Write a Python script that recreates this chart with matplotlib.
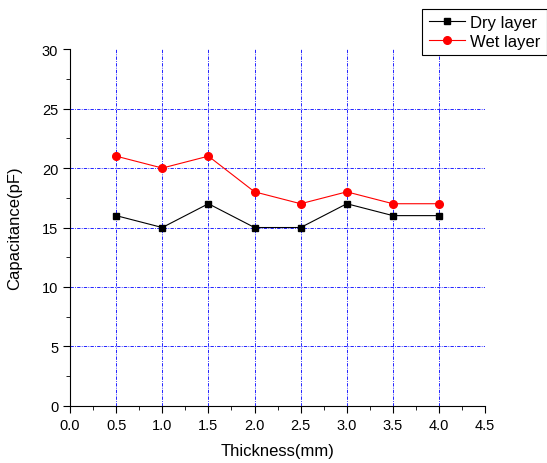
import matplotlib.pyplot as plt
from matplotlib.ticker import MultipleLocator

thickness = [0.5, 1.0, 1.5, 2.0, 2.5, 3.0, 3.5, 4.0]
dry = [16, 15, 17, 15, 15, 17, 16, 16]
wet = [21, 20, 21, 18, 17, 18, 17, 17]

plt.rcParams['font.family'] = ['Liberation Sans', 'DejaVu Sans']

fig = plt.figure(figsize=(5.47, 4.64), dpi=100)
ax = fig.add_axes([0.128, 0.123, 0.759, 0.769])

ax.plot(thickness, dry, color='black', marker='s', markersize=5, linewidth=0.8, label='Dry layer')
ax.plot(thickness, wet, color='red', marker='o', markersize=5.5, linewidth=0.8, label='Wet layer')

ax.set_xlim(0, 4.5)
ax.set_ylim(0, 30)
ax.xaxis.set_major_locator(MultipleLocator(0.5))
ax.xaxis.set_minor_locator(MultipleLocator(0.25))
ax.yaxis.set_major_locator(MultipleLocator(5))
ax.yaxis.set_minor_locator(MultipleLocator(2.5))
ax.set_xticklabels([f'{v:.1f}' for v in ax.get_xticks()])
ax.tick_params(which='major', direction='out', length=5, labelsize=10.5)
ax.tick_params(which='minor', direction='out', length=3)

ax.spines['top'].set_visible(False)
ax.spines['right'].set_visible(False)
ax.grid(True, color='blue', linestyle=(0, (4, 1.5, 1, 1.5)), linewidth=0.6)
ax.set_axisbelow(True)

# no grid lines on the axis limits
fig.canvas.draw()
for axis, lims in ((ax.xaxis, ax.get_xlim()), (ax.yaxis, ax.get_ylim())):
    for tick in axis.get_major_ticks():
        if abs(tick.get_loc() - lims[0]) < 1e-9 or abs(tick.get_loc() - lims[1]) < 1e-9:
            tick.gridline.set_visible(False)

ax.set_xlabel('Thickness(mm)', fontsize=12, labelpad=8)
ax.set_ylabel('Capacitance(pF)', fontsize=12, labelpad=14)

leg = fig.legend(loc='upper right', bbox_to_anchor=(1.01, 0.99), fontsize=12, fancybox=False,
                 edgecolor='black', framealpha=1, handlelength=2.2, borderaxespad=0.3,
                 handletextpad=0.3, labelspacing=0.2, borderpad=0.4)
leg.get_frame().set_linewidth(0.8)

fig.savefig('out.png', dpi=100)
